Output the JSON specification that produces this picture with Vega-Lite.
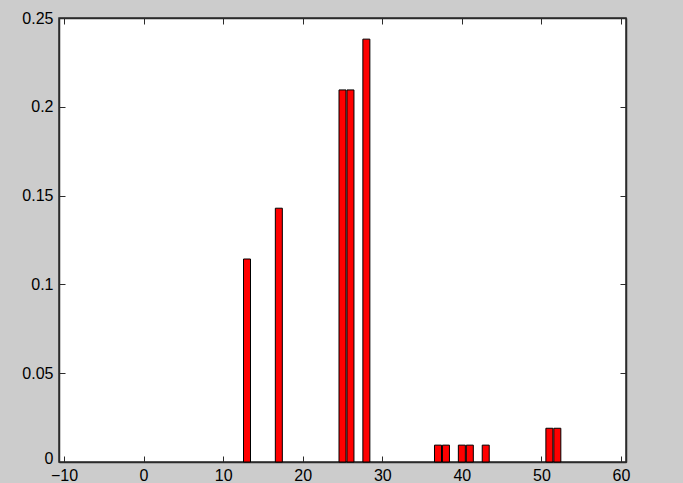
{
  "$schema": "https://vega.github.io/schema/vega-lite/v6.json",
  "autosize": {"type": "none"},
  "width": 567,
  "height": 444,
  "padding": {"left": 59, "top": 18, "right": 57, "bottom": 21},
  "background": "#cccccc",
  "config": {
    "view": {"fill": "#ffffff", "stroke": "#2b2b2b", "strokeWidth": 1.5},
    "axis": {
      "labelFont": "Liberation Sans",
      "labelFontSize": 16,
      "labelColor": "#000000",
      "domainColor": "#2b2b2b",
      "domainWidth": 1.5,
      "tickColor": "#2b2b2b",
      "tickWidth": 1,
      "tickSize": -6,
      "grid": false,
      "title": null
    }
  },
  "data": {
    "values": [
      {"x": 13, "p": 0.1143},
      {"x": 17, "p": 0.1429},
      {"x": 25, "p": 0.2095},
      {"x": 26, "p": 0.2095},
      {"x": 28, "p": 0.2381},
      {"x": 37, "p": 0.0095},
      {"x": 38, "p": 0.0095},
      {"x": 40, "p": 0.0095},
      {"x": 41, "p": 0.0095},
      {"x": 43, "p": 0.0095},
      {"x": 51, "p": 0.019},
      {"x": 52, "p": 0.019}
    ]
  },
  "layer": [
    {
      "mark": {"type": "bar", "size": 7, "fill": "#ff0000", "stroke": "#000000", "strokeWidth": 1},
      "encoding": {
        "x": {"field": "x", "type": "quantitative",
          "scale": {"domain": [-10, 60], "nice": false, "zero": false},
          "axis": {"orient": "bottom", "values": [-10, 0, 10, 20, 30, 40, 50, 60], "labelPadding": 11, "labelFlush": false, "labelOverlap": false}},
        "y": {"field": "p", "type": "quantitative",
          "scale": {"domain": [0, 0.25], "nice": false},
          "axis": {"orient": "left", "values": [0, 0.05, 0.1, 0.15, 0.2, 0.25], "format": ".2~f", "labelPadding": 12, "labelFlush": false, "labelOverlap": false,
            "labelOffset": {"condition": {"test": "datum.value === 0", "value": -4}, "value": 0}}}
      }
    },
    {
      "mark": {"type": "bar", "size": 7, "opacity": 0},
      "encoding": {
        "x": {"field": "x", "type": "quantitative",
          "scale": {"domain": [-10, 60], "nice": false, "zero": false},
          "axis": {"orient": "top", "values": [-10, 0, 10, 20, 30, 40, 50, 60], "labels": false}},
        "y": {"field": "p", "type": "quantitative",
          "scale": {"domain": [0, 0.25], "nice": false},
          "axis": {"orient": "right", "values": [0, 0.05, 0.1, 0.15, 0.2, 0.25], "labels": false}}
      }
    }
  ],
  "resolve": {"axis": {"x": "independent", "y": "independent"}}
}
